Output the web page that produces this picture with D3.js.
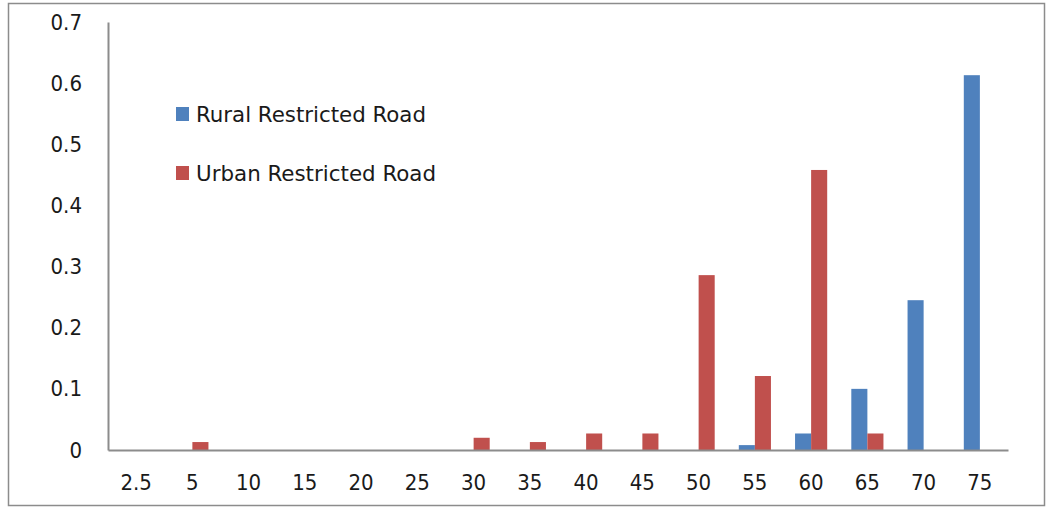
<!DOCTYPE html>
<html><head><meta charset="utf-8">
<script src="https://cdn.jsdelivr.net/npm/d3@7"></script>
<style>body{margin:0;background:#fff}svg{display:block}</style>
</head><body>
<svg id="c" width="1050" height="510"></svg>
<script>
const categories = ["2.5","5","10","15","20","25","30","35","40","45","50","55","60","65","70","75"];
const rural = [0,0,0,0,0,0,0,0,0,0,0,0.008,0.027,0.1,0.245,0.613];
const urban = [0,0.013,0,0,0,0,0.02,0.013,0.027,0.027,0.286,0.121,0.458,0.027,0,0];
const seriesNames = ["Rural Restricted Road","Urban Restricted Road"];
const colors = ["#4f81bd","#c0504d"];
const yTicks = [0,0.1,0.2,0.3,0.4,0.5,0.6,0.7];

const svg = d3.select("#c");
const font = "'DejaVu Sans Condensed','DejaVu Sans',sans-serif";
svg.append("rect").attr("x",8.5).attr("y",3.5).attr("width",1036).attr("height",502)
  .attr("fill","#fff").attr("stroke","#8c8c8c").attr("stroke-width",1.5);

const L=108,R=1008,T=22,B=450;
const x = d3.scaleBand().domain(categories).range([L,R]).paddingInner(0).paddingOuter(0);
const y = d3.scaleLinear().domain([0,0.7]).range([B,T]);
const bw = x.bandwidth()/3.5;

const data = [rural,urban];
data.forEach((vals,si)=>{
  svg.append("g").selectAll("rect").data(vals).join("rect")
    .attr("x",(d,i)=>x(categories[i])+x.bandwidth()/2-bw+si*bw)
    .attr("y",d=>y(d)).attr("width",bw).attr("height",d=>B-y(d))
    .attr("fill",colors[si]);
});

const ya = svg.append("g").attr("transform",`translate(${L},0)`)
  .call(d3.axisLeft(y).tickValues(yTicks).tickSize(0).tickPadding(26).tickFormat(d=>d===0?"0":d3.format(".1f")(d)));
const xa = svg.append("g").attr("transform",`translate(0,${B})`)
  .call(d3.axisBottom(x).tickSize(0).tickPadding(24));
[ya,xa].forEach(a=>{
  a.select(".domain").attr("stroke","#8c8c8c").attr("stroke-width",2);
  a.selectAll("text").attr("font-family",font).attr("font-size",22).attr("fill","#1a1a1a");
});

const lg = svg.append("g");
seriesNames.forEach((n,i)=>{
  const yy = 114 + i*59;
  lg.append("rect").attr("x",176).attr("y",yy-7).attr("width",13).attr("height",14).attr("fill",colors[i]);
  lg.append("text").attr("x",196).attr("y",yy).attr("dy","0.35em").text(n)
    .attr("font-family",font).attr("font-size",22).attr("fill","#1a1a1a")
    .attr("textLength", i===0?230:240).attr("lengthAdjust","spacingAndGlyphs");
});
</script>
</body></html>
